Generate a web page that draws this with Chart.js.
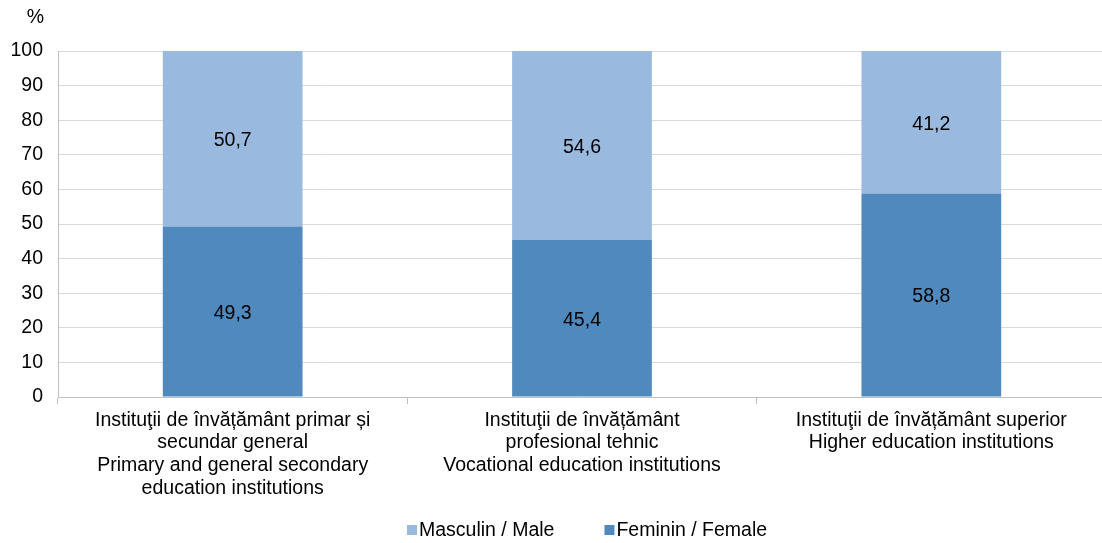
<!DOCTYPE html>
<html>
<head>
<meta charset="utf-8">
<script src="https://cdn.jsdelivr.net/npm/chart.js@4"></script>
<style>
html,body{margin:0;padding:0;background:#fff;overflow:hidden;}
#wrap{position:relative;width:1106px;height:543px;}
</style>
</head>
<body>
<div id="wrap"><canvas id="c"></canvas></div>
<script>
const categories = [
  ["Instituţii de învățământ primar și", "secundar general", "Primary and general secondary", "education institutions"],
  ["Instituţii de învățământ", "profesional tehnic", "Vocational education institutions"],
  ["Instituţii de învățământ superior", "Higher education institutions"]
];
const femaleValues = [49.3, 45.4, 58.8];
const maleValues = [50.7, 54.6, 41.2];
const femaleLabel = "Feminin / Female";
const maleLabel = "Masculin / Male";
const yTicks = [0, 10, 20, 30, 40, 50, 60, 70, 80, 90, 100];
const unitLabel = "%";

const FONT = "'Liberation Sans', Arial, sans-serif";
const FS = 19.5;

const valueLabels = {
  id: 'valueLabels',
  afterDatasetsDraw(chart) {
    const ctx = chart.ctx;
    ctx.save();
    ctx.font = FS + "px " + FONT;
    ctx.fillStyle = "#000";
    ctx.textAlign = "center";
    ctx.textBaseline = "middle";
    chart.data.datasets.forEach((ds, i) => {
      const meta = chart.getDatasetMeta(i);
      meta.data.forEach((bar, j) => {
        const p = bar.getProps(['x', 'y', 'base'], true);
        const txt = ds.data[j].toFixed(1).replace('.', ',');
        ctx.fillText(txt, p.x, (p.y + p.base) / 2 + 2);
      });
    });
    ctx.restore();
  }
};

const unitPlugin = {
  id: 'unitPlugin',
  afterDraw(chart) {
    const ctx = chart.ctx;
    ctx.save();
    ctx.font = FS + "px " + FONT;
    ctx.fillStyle = "#000";
    ctx.textAlign = "right";
    ctx.textBaseline = "middle";
    ctx.fillText(unitLabel, chart.chartArea.left - 14, 18);
    ctx.restore();
  }
};

const customLegend = {
  id: 'customLegend',
  afterDraw(chart) {
    const ctx = chart.ctx;
    ctx.save();
    ctx.font = FS + "px " + FONT;
    ctx.textBaseline = "middle";
    ctx.textAlign = "left";
    const y = 530;
    let x = 407;
    const order = chart.data.datasets.map((d, i) => i).reverse();
    order.forEach(i => {
      const ds = chart.data.datasets[i];
      ctx.fillStyle = ds.backgroundColor;
      ctx.fillRect(x, y - 5, 10, 10);
      ctx.fillStyle = "#000";
      ctx.fillText(ds.label, x + 12, y + 1);
      x += 12 + ctx.measureText(ds.label).width + 50;
    });
    ctx.restore();
  }
};

new Chart(document.getElementById('c'), {
  type: 'bar',
  data: {
    labels: categories,
    datasets: [
      { label: femaleLabel, data: femaleValues, backgroundColor: '#4F89BD', borderWidth: 0 },
      { label: maleLabel, data: maleValues, backgroundColor: '#99B9DF', borderWidth: 0 }
    ]
  },
  options: {
    responsive: true,
    maintainAspectRatio: false,
    animation: false,
    devicePixelRatio: 1,
    layout: { padding: { top: 51, left: 0, right: 0, bottom: 0 } },
    datasets: { bar: { barPercentage: 0.4, categoryPercentage: 1.0 } },
    plugins: {
      legend: { display: false },
      tooltip: { enabled: false }
    },
    scales: {
      x: {
        stacked: true,
        offset: true,
        grid: { display: true, drawOnChartArea: false, drawTicks: true, tickLength: 7, color: '#BFBFBF', offset: true },
        border: { display: true, color: '#BFBFBF', width: 1 },
        ticks: { font: { family: FONT, size: FS, lineHeight: 1.16 }, color: '#000', padding: 5, maxRotation: 0, autoSkip: false },
        afterFit(scale) { scale.height = 146; }
      },
      y: {
        stacked: true,
        min: 0,
        max: 100,
        afterBuildTicks(scale) { scale.ticks = yTicks.map(v => ({ value: v })); },
        grid: { color: '#D9D9D9', lineWidth: 1, drawTicks: false },
        border: { display: true, color: '#BFBFBF', width: 1 },
        ticks: { font: { family: FONT, size: FS }, color: '#000', padding: 15 },
        afterFit(scale) { scale.width = 58; }
      }
    }
  },
  plugins: [valueLabels, unitPlugin, customLegend]
});
</script>
</body>
</html>
